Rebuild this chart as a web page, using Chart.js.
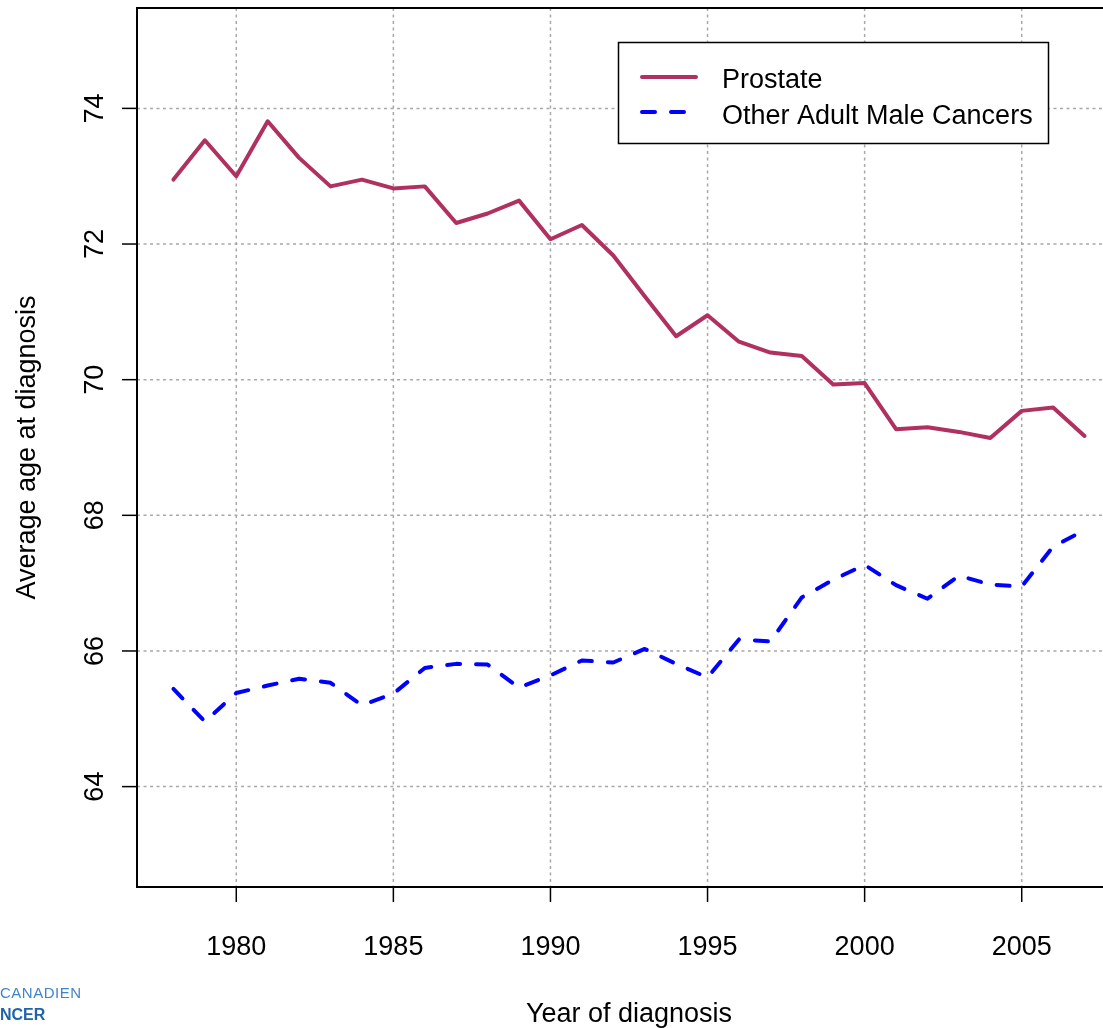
<!DOCTYPE html>
<html>
<head>
<meta charset="utf-8">
<title>Average age at diagnosis</title>
<script src="https://cdn.jsdelivr.net/npm/chart.js@4.4.0/dist/chart.umd.min.js"></script>
<style>
  html, body { margin: 0; padding: 0; background: #fff; overflow: hidden; }
  #wrap { position: relative; width: 1103px; height: 1028px; overflow: hidden; }
  #chartBox { position: absolute; left: 0; top: 0; width: 1140px; height: 1028px; }
  .logo { position: absolute; left: 0; font-family: "Liberation Sans", Arial, sans-serif; white-space: nowrap; }
</style>
</head>
<body>
<div id="wrap">
  <div id="chartBox"><canvas id="ageChart" width="1140" height="1028"></canvas></div>
  <div class="logo" style="top:984px; font-size:15px; color:#3f86c6; letter-spacing:0.5px;">CANADIEN</div>
  <div class="logo" style="top:1006px; font-size:16px; font-weight:bold; color:#1f63ab;">NCER</div>
</div>
<script>
'use strict';

// ---- data ----
const years = [1978, 1979, 1980, 1981, 1982, 1983, 1984, 1985, 1986, 1987,
  1988, 1989, 1990, 1991, 1992, 1993, 1994, 1995, 1996, 1997,
  1998, 1999, 2000, 2001, 2002, 2003, 2004, 2005, 2006, 2007];
const prostate = [72.95, 73.53, 73.00, 73.81, 73.27, 72.85, 72.95, 72.82, 72.85, 72.31,
  72.45, 72.64, 72.07, 72.28, 71.83, 71.23, 70.64, 70.95, 70.56, 70.40,
  70.35, 69.93, 69.95, 69.27, 69.30, 69.23, 69.14, 69.54, 69.59, 69.17];
const otherMale = [65.44, 64.96, 65.38, 65.49, 65.59, 65.53, 65.20, 65.37, 65.75, 65.81,
  65.80, 65.46, 65.64, 65.86, 65.83, 66.03, 65.81, 65.61, 66.17, 66.14,
  66.79, 67.05, 67.27, 66.97, 66.77, 67.11, 66.98, 66.95, 67.54, 67.78];
const seriesNames = ['Prostate', 'Other Adult Male Cancers'];
const xTicks = [1980, 1985, 1990, 1995, 2000, 2005];
const xTickLabels = ['1980', '1985', '1990', '1995', '2000', '2005'];
const yTicks = [64, 66, 68, 70, 72, 74];
const yTickLabels = ['64', '66', '68', '70', '72', '74'];
const xTitle = 'Year of diagnosis';
const yTitle = 'Average age at diagnosis';

// ---- helpers ----
const FONT = '"Liberation Sans", Arial, Helvetica, sans-serif';
const toPoints = (vals) => vals.map((v, i) => ({ x: years[i], y: v }));

function strokeLine(ctx, x1, y1, x2, y2) {
  ctx.beginPath(); ctx.moveTo(x1, y1); ctx.lineTo(x2, y2); ctx.stroke();
}

// ---- R-style frame, grid, ticks, titles, legend ----
const rFrame = {
  id: 'rFrame',
  beforeDatasetsDraw(chart) {
    const { ctx, chartArea: a, scales: { x, y } } = chart;
    ctx.save();
    ctx.strokeStyle = '#a8a8a8';
    ctx.lineWidth = 1.5;
    ctx.setLineDash([3, 3.5]);
    xTicks.forEach(v => {
      const px = x.getPixelForValue(v);
      strokeLine(ctx, px, a.top, px, a.bottom);
    });
    yTicks.forEach(v => {
      const py = y.getPixelForValue(v);
      strokeLine(ctx, a.left, py, a.right, py);
    });
    ctx.restore();
  },
  afterDraw(chart) {
    const { ctx, chartArea: a, scales: { x, y } } = chart;
    const ds = chart.data.datasets;
    ctx.save();

    // box
    ctx.strokeStyle = '#000';
    ctx.lineWidth = 2;
    ctx.strokeRect(a.left, a.top, a.right - a.left, a.bottom - a.top);

    // tick marks
    ctx.lineWidth = 1.5;
    xTicks.forEach(v => {
      const px = x.getPixelForValue(v);
      strokeLine(ctx, px, a.bottom, px, a.bottom + 15);
    });
    yTicks.forEach(v => {
      const py = y.getPixelForValue(v);
      strokeLine(ctx, a.left - 15, py, a.left, py);
    });

    // tick labels
    ctx.fillStyle = '#000';
    ctx.font = `27px ${FONT}`;
    ctx.textAlign = 'center';
    ctx.textBaseline = 'alphabetic';
    xTicks.forEach((v, i) => ctx.fillText(xTickLabels[i], x.getPixelForValue(v), 955));
    yTicks.forEach((v, i) => {
      ctx.save();
      ctx.translate(103, y.getPixelForValue(v));
      ctx.rotate(-Math.PI / 2);
      ctx.fillText(yTickLabels[i], 0, 0);
      ctx.restore();
    });

    // axis titles
    ctx.fillText(xTitle, (a.left + a.right) / 2, 1022);
    ctx.save();
    ctx.translate(35, (a.top + a.bottom) / 2);
    ctx.rotate(-Math.PI / 2);
    ctx.fillText(yTitle, 0, 0);
    ctx.restore();

    // legend
    ctx.fillStyle = '#fff';
    ctx.fillRect(618.5, 42.5, 430, 101);
    ctx.strokeStyle = '#000';
    ctx.lineWidth = 1.5;
    ctx.strokeRect(618.5, 42.5, 430, 101);
    const rows = [{ ly: 77, ty: 88 }, { ly: 112, ty: 124 }];
    ds.forEach((d, i) => {
      ctx.save();
      ctx.strokeStyle = d.borderColor;
      ctx.lineWidth = d.borderWidth;
      ctx.lineCap = d.borderCapStyle || 'butt';
      ctx.setLineDash(d.borderDash || []);
      strokeLine(ctx, 642, rows[i].ly, 696, rows[i].ly);
      ctx.restore();
      ctx.fillStyle = '#000';
      ctx.textAlign = 'left';
      ctx.fillText(d.label, 722, rows[i].ty);
    });

    ctx.restore();
  }
};

// ---- chart ----
new Chart(document.getElementById('ageChart').getContext('2d'), {
  type: 'line',
  data: {
    datasets: [
      {
        label: seriesNames[0], data: toPoints(prostate),
        borderColor: '#b03060', borderWidth: 4, borderJoinStyle: 'round', borderCapStyle: 'round',
        pointRadius: 0, tension: 0, fill: false
      },
      {
        label: seriesNames[1], data: toPoints(otherMale),
        borderColor: '#0000ff', borderWidth: 4, borderJoinStyle: 'round', borderCapStyle: 'round',
        borderDash: [13, 16], pointRadius: 0, tension: 0, fill: false
      }
    ]
  },
  options: {
    responsive: false,
    animation: false,
    devicePixelRatio: 1,
    layout: { padding: { left: 137, top: 8, right: 19, bottom: 141 } },
    plugins: { legend: { display: false }, tooltip: { enabled: false } },
    scales: {
      x: { type: 'linear', display: false, min: 1976.84, max: 2008.16 },
      y: { type: 'linear', display: false, min: 62.52, max: 75.48 }
    }
  },
  plugins: [rFrame]
});
</script>
</body>
</html>
